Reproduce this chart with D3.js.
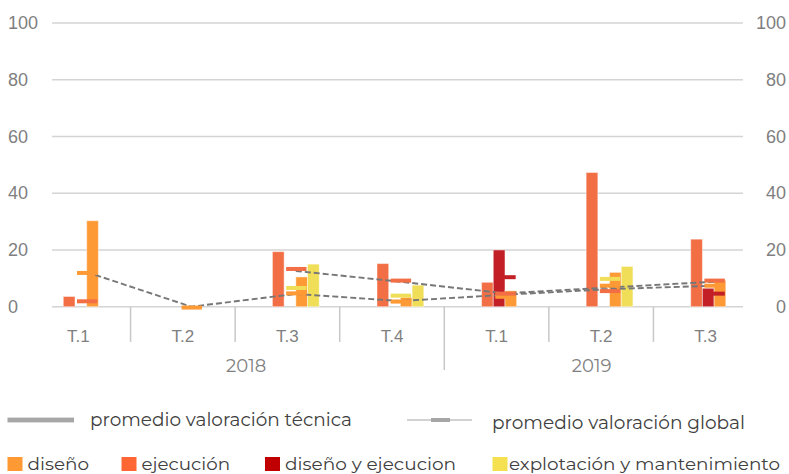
<!DOCTYPE html>
<html>
<head>
<meta charset="utf-8">
<script src="https://cdn.jsdelivr.net/npm/d3@7"></script>
<style>
  body { margin: 0; background: #fff; }
  svg { display: block; font-family: 'Montserrat', 'Noto Sans', sans-serif; }
</style>
</head>
<body>
<svg id="chart" width="789" height="474"></svg>
<script>
const quarters = ['T.1', 'T.2', 'T.3', 'T.4', 'T.1', 'T.2', 'T.3'];
const yearLabels = ['2018', '2019'];
const yearSpans = [[0, 3], [4, 6]];
const yTicks = [0, 20, 40, 60, 80, 100];

const seriesNames = ['diseño', 'ejecución', 'diseño y ejecucion', 'explotación y mantenimiento'];
const slotOrder = ['ejecución', 'diseño y ejecucion', 'diseño', 'explotación y mantenimiento'];

// bars: valoración técnica por tipo
const tecDiseno      = [30.3, null, 10.5, 3.3, 5.6, 12.1, 9.3];
const tecEjecucion   = [3.6, null, 19.4, 15.2, 8.6, 47.3, 23.8];
const tecDisEje      = [null, null, null, null, 20.0, null, 6.5];
const tecExplotacion = [null, null, 15.0, 7.6, null, 14.2, null];

// dash markers: valoración global por tipo
const gloDiseno      = [11.9, -0.3, 4.7, 1.8, 3.5, 7.4, 7.4];
const gloEjecucion   = [1.9, null, 13.3, 9.2, 4.6, 5.5, 9.2];
const gloDisEje      = [null, null, null, null, 10.4, null, 4.6];
const gloExplotacion = [null, null, 6.6, 3.9, null, 9.8, null];

// dashed average lines
const promedioTecnica = [12.2, 0, 4.5, 2.0, 4.2, 6.2, 7.4];
const promedioGlobal  = [null, null, 12.6, 8.8, 4.7, 6.8, 8.8];

const colors = {
    'diseño': '#FD9A36',
    'ejecución': '#F26E44',
    'diseño y ejecucion': '#C21F26',
    'explotación y mantenimiento': '#F0DE58'
};
const legendColors = {
    'diseño': '#FF9933',
    'ejecución': '#FF6633',
    'diseño y ejecucion': '#C00000',
    'explotación y mantenimiento': '#F5E050'
};

const tecBySeries = {
    'diseño': tecDiseno, 'ejecución': tecEjecucion,
    'diseño y ejecucion': tecDisEje, 'explotación y mantenimiento': tecExplotacion
};
const gloBySeries = {
    'diseño': gloDiseno, 'ejecución': gloEjecucion,
    'diseño y ejecucion': gloDisEje, 'explotación y mantenimiento': gloExplotacion
};

const svg = d3.select('#chart');
const plotLeft = 52, plotRight = 743;
const groupShift = 8.4;

const x = d3.scaleBand()
    .domain(d3.range(quarters.length))
    .range([26, 758]);
const y = d3.scaleLinear()
    .domain([0, 100])
    .range([306.7, 23]);
const slot = d3.scaleBand()
    .domain(slotOrder)
    .range([-23.4, 23.4]);
const cx = i => x(i) + x.bandwidth() / 2 + groupShift;

// gridlines
svg.append('g')
    .selectAll('line')
    .data(yTicks)
    .join('line')
    .attr('x1', plotLeft).attr('x2', plotRight)
    .attr('y1', d => y(d)).attr('y2', d => y(d))
    .attr('stroke', '#d4d4d4')
    .attr('stroke-width', 1.5);

// y axes (left + right)
const leftAxis = svg.append('g')
    .attr('transform', 'translate(8,0)')
    .call(d3.axisRight(y).tickValues(yTicks).tickSize(0).tickPadding(0));
const rightAxis = svg.append('g')
    .attr('transform', 'translate(786,0)')
    .call(d3.axisLeft(y).tickValues(yTicks).tickSize(0).tickPadding(0));
[leftAxis, rightAxis].forEach(a => {
    a.select('.domain').remove();
    a.selectAll('text')
        .attr('fill', '#7f7f7f')
        .style('font-size', '18px')
        .style('font-family', null);
});

// category axis
const xAxis = svg.append('g')
    .attr('transform', `translate(0,${y(0)})`)
    .call(d3.axisBottom(x).tickSize(0).tickPadding(23).tickFormat(i => quarters[i]));
xAxis.select('.domain').remove();
xAxis.selectAll('text')
    .attr('fill', '#7f7f7f')
    .style('font-size', '17px')
    .style('font-family', null);

const yearStarts = yearSpans.map(s => s[0]);
svg.append('g')
    .selectAll('line')
    .data(d3.range(1, quarters.length))
    .join('line')
    .attr('x1', i => x(i)).attr('x2', i => x(i))
    .attr('y1', y(0))
    .attr('y2', i => yearStarts.includes(i) ? 370 : 342)
    .attr('stroke', '#c8c8c8')
    .attr('stroke-width', 1.5);

svg.append('g')
    .selectAll('text')
    .data(yearSpans)
    .join('text')
    .attr('x', s => (Math.max(plotLeft, x(s[0])) + Math.min(plotRight, x(s[1]) + x.bandwidth())) / 2 - 2)
    .attr('y', 371.5)
    .attr('text-anchor', 'middle')
    .attr('fill', '#7f7f7f')
    .style('font-size', '18px')
    .text((s, i) => yearLabels[i]);

// bars
const barData = [];
slotOrder.forEach(name => {
    tecBySeries[name].forEach((v, i) => {
        if (v != null) barData.push({ name, i, v });
    });
});
svg.append('g')
    .selectAll('rect')
    .data(barData)
    .join('rect')
    .attr('x', d => cx(d.i) + slot(d.name))
    .attr('width', slot.bandwidth())
    .attr('y', d => y(d.v))
    .attr('height', d => y(0) - y(d.v))
    .attr('fill', d => colors[d.name])
    .attr('stroke', '#fff')
    .attr('stroke-opacity', 0.45)
    .attr('stroke-width', 1);

// average lines
const line = d3.line()
    .defined(d => d != null)
    .x((d, i) => cx(i))
    .y(d => y(d));
svg.append('g')
    .selectAll('path')
    .data([promedioTecnica, promedioGlobal])
    .join('path')
    .attr('d', line)
    .attr('fill', 'none')
    .attr('stroke', '#777')
    .attr('stroke-width', 1.9)
    .attr('stroke-dasharray', '6,3');

// dash markers
const markData = [];
seriesNames.forEach(name => {
    gloBySeries[name].forEach((v, i) => {
        if (v != null) markData.push({ name, i, v });
    });
});
const markW = 20.4, markH = 4;
svg.append('g')
    .selectAll('rect')
    .data(markData)
    .join('rect')
    .attr('x', d => cx(d.i) - markW / 2 + 0.5)
    .attr('width', markW)
    .attr('y', d => y(d.v) - markH / 2)
    .attr('height', markH)
    .attr('fill', d => colors[d.name]);

// legend
const lg = svg.append('g').style('font-size', '18px').attr('fill', '#404040');
lg.append('rect')
    .attr('x', 7.5).attr('y', 417.6).attr('width', 66.5).attr('height', 4.8)
    .attr('fill', '#a6a6a6');
lg.append('text')
    .attr('x', 90).attr('y', 426)
    .attr('textLength', 262).attr('lengthAdjust', 'spacingAndGlyphs')
    .text('promedio valoración técnica');
lg.append('line')
    .attr('x1', 407).attr('x2', 472).attr('y1', 420).attr('y2', 420)
    .attr('stroke', '#a6a6a6').attr('stroke-width', 1.2);
lg.append('rect')
    .attr('x', 431).attr('y', 418).attr('width', 19).attr('height', 4)
    .attr('fill', '#a6a6a6');
lg.append('text')
    .attr('x', 492).attr('y', 429)
    .attr('textLength', 253).attr('lengthAdjust', 'spacingAndGlyphs')
    .text('promedio valoración global');

const legendX = [7.5, 121.5, 265, 492.5];
const legendW = [61.5, 88.5, 171, 271];
const items = lg.append('g')
    .selectAll('g')
    .data(seriesNames)
    .join('g')
    .attr('transform', (d, i) => `translate(${legendX[i]},457)`);
items.append('rect')
    .attr('width', 15).attr('height', 14)
    .attr('fill', d => legendColors[d]);
items.append('text')
    .attr('x', (d, i) => i === 3 ? 16.5 : 20)
    .attr('y', 12.5)
    .style('font-size', '17px')
    .attr('textLength', (d, i) => legendW[i])
    .attr('lengthAdjust', 'spacingAndGlyphs')
    .text(d => d);
</script>
</body>
</html>
